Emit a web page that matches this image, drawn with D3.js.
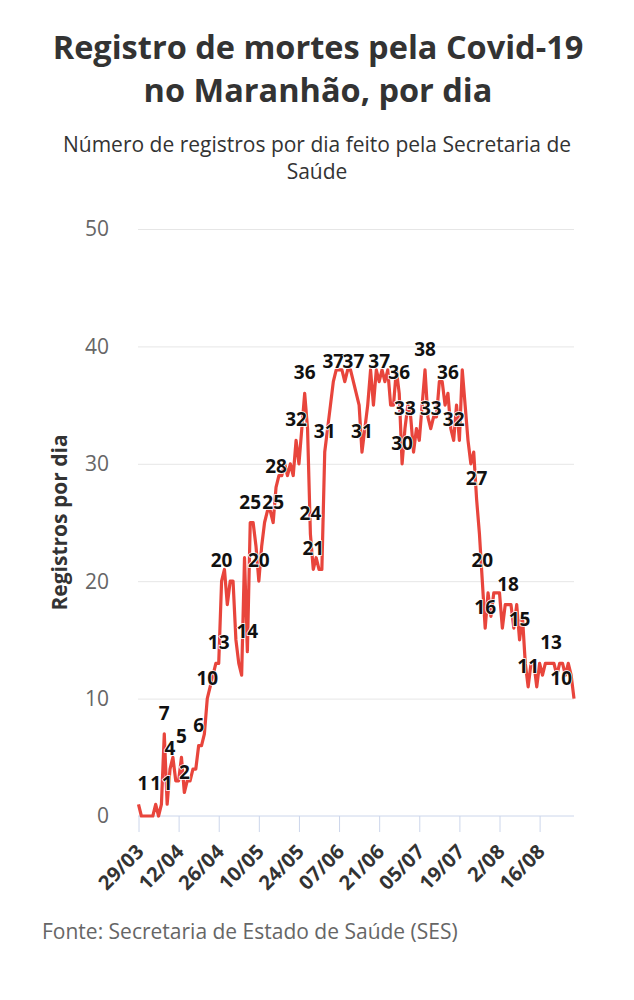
<!DOCTYPE html>
<html>
<head>
<meta charset="utf-8">
<script src="https://cdn.jsdelivr.net/npm/d3@7"></script>
<style>
  body { margin: 0; background: #fff; font-family: "Open Sans", sans-serif; }
</style>
</head>
<body>
<div id="chart"></div>
<script>
// registros por dia (29/03 a 28/08)
var startDate = "2020-03-29";
var deaths = [
  1,0,0,0,0,0,1,0,1,7,1,4,5,3,3,5,2,3,3,4,4,6,6,7,10,
  11,12,13,13,20,21,18,20,20,15,13,12,22,14,25,25,23,20,23,25,26,26,25,28,29,
  29,30,29,30,29,32,30,33,36,33,24,21,22,21,21,31,33,35,37,38,38,38,37,38,38,
  37,36,35,31,33,35,38,35,38,37,38,37,38,35,35,38,36,30,33,35,34,31,33,32,35,
  38,34,33,34,34,37,37,35,36,33,32,35,32,38,35,32,30,31,27,24,20,16,19,17,19,
  19,19,16,18,18,18,16,18,15,17,13,11,13,13,11,13,12,13,13,13,13,12,13,13,12,
  13,12,10
];
// dias (índice) que mostram o rótulo com o valor
var labelDays = [0,6,9,10,11,15,16,21,24,28,29,38,39,42,47,48,55,58,60,61,65,68,75,78,84,
  91,92,93,100,102,108,110,118,120,121,129,133,136,144,152];
var yTicks = [0, 10, 20, 30, 40, 50];
var xTickLabels = ["29/03","12/04","26/04","10/05","24/05","07/06","21/06","05/07","19/07","2/08","16/08"];

var width = 634, height = 1000;
var margin = {top: 229, right: 60, bottom: 184, left: 138};

var svg = d3.select("#chart").append("svg")
  .attr("width", width)
  .attr("height", height);

// títulos
var title = svg.append("text")
  .attr("text-anchor", "middle")
  .attr("fill", "#333")
  .style("font-size", "32.5px")
  .style("font-weight", "bold");
title.append("tspan").attr("x", width / 2 + 1).attr("y", 59).text("Registro de mortes pela Covid-19");
title.append("tspan").attr("x", width / 2 + 1).attr("y", 102).text("no Maranhão, por dia");

var sub = svg.append("text")
  .attr("text-anchor", "middle")
  .attr("fill", "#333")
  .style("font-size", "21px");
sub.append("tspan").attr("x", width / 2).attr("y", 152).text("Número de registros por dia feito pela Secretaria de");
sub.append("tspan").attr("x", width / 2).attr("y", 179).text("Saúde");

var parse = d3.timeParse("%Y-%m-%d");
var t0 = parse(startDate);
var days = deaths.map(function(v, i) { return d3.timeDay.offset(t0, i); });
var data = deaths.map(function(v, i) { return {date: days[i], value: v, i: i}; });

var x = d3.scaleTime()
  .domain([days[0], days[days.length - 1]])
  .range([margin.left + 0.5, width - margin.right]);

var y = d3.scaleLinear()
  .domain([0, 50])
  .range([height - margin.bottom, margin.top]);

// grade
svg.append("g")
  .selectAll("line")
  .data(yTicks.filter(function(d) { return d > 0; }))
  .enter().append("line")
  .attr("x1", margin.left)
  .attr("x2", width - margin.right)
  .attr("y1", function(d) { return y(d) + 0.5; })
  .attr("y2", function(d) { return y(d) + 0.5; })
  .attr("stroke", "#e6e6e6")
  .attr("stroke-width", 1);

// eixo y
svg.append("g")
  .selectAll("text")
  .data(yTicks)
  .enter().append("text")
  .attr("x", 109)
  .attr("y", function(d) { return y(d); })
  .attr("dy", "0.35em")
  .attr("text-anchor", "end")
  .attr("fill", "#666")
  .style("font-size", "21px")
  .text(function(d) { return d; });

svg.append("text")
  .attr("transform", "translate(67," + ((y(0) + y(50)) / 2) + ") rotate(-90)")
  .attr("text-anchor", "middle")
  .attr("fill", "#333")
  .style("font-size", "21px")
  .style("font-weight", "bold")
  .text("Registros por dia");

// eixo x
var tickDates = days.filter(function(d, i) { return i % 14 === 0; });
var xAxis = d3.axisBottom(x)
  .tickValues(tickDates)
  .tickSize(16)
  .tickFormat(function(d, i) { return xTickLabels[i]; });

var gx = svg.append("g")
  .attr("transform", "translate(0," + y(0) + ")")
  .call(xAxis);
gx.select(".domain").remove();
gx.append("line")
  .attr("x1", margin.left)
  .attr("x2", width - margin.right)
  .attr("stroke", "#ccd6eb");
gx.selectAll(".tick line").attr("stroke", "#ccd6eb");
gx.selectAll(".tick text")
  .attr("fill", "#333")
  .style("font-family", "'Open Sans', sans-serif")
  .style("font-size", "20px")
  .style("font-weight", "bold")
  .attr("text-anchor", "end")
  .attr("y", 0)
  .attr("dy", 0)
  .attr("transform", "translate(6,37) rotate(-45)");

// linha
var line = d3.line()
  .x(function(d) { return x(d.date); })
  .y(function(d) { return y(d.value); });

svg.append("path")
  .datum(data)
  .attr("fill", "none")
  .attr("stroke", "#e8453c")
  .attr("stroke-width", 3.2)
  .attr("stroke-linejoin", "round")
  .attr("d", line);

// rótulos
svg.append("g")
  .selectAll("text")
  .data(labelDays.map(function(i) { return data[i]; }))
  .enter().append("text")
  .attr("x", function(d) {
    if (d.i === 0) return x(d.date) - 1;
    if (d.i === data.length - 1) return x(d.date) - 2;
    return x(d.date);
  })
  .attr("y", function(d) { return y(d.value) - 14; })
  .attr("text-anchor", function(d) {
    if (d.i === 0) return "start";
    if (d.i === data.length - 1) return "end";
    return "middle";
  })
  .attr("fill", "#111")
  .attr("stroke", "#fff")
  .attr("stroke-width", 1.5)
  .attr("paint-order", "stroke")
  .style("font-size", "19px")
  .style("font-weight", "bold")
  .text(function(d) { return d.value; });

// fonte
svg.append("text")
  .attr("x", 42)
  .attr("y", 939)
  .attr("fill", "#666")
  .style("font-size", "21px")
  .text("Fonte: Secretaria de Estado de Saúde (SES)");
</script>
</body>
</html>
